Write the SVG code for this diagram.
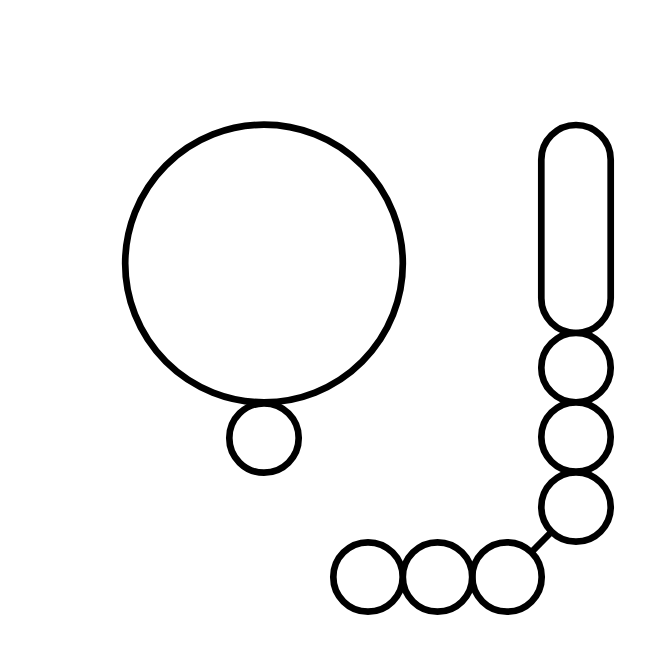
<svg xmlns="http://www.w3.org/2000/svg" width="667" height="667" viewBox="0 0 667 667">
<style>
.n{fill:#fff;stroke:#000;stroke-width:6.7}
.c{stroke:#000;stroke-width:6.5;fill:none}
</style>
<rect width="667" height="667" fill="#fff"/>
<g id="connectors">
<line class="c" x1="507" y1="577" x2="576" y2="507"/>
</g>
<g id="big"><circle class="n" cx="264" cy="263.5" r="138.8"/></g>
<g id="small"><circle class="n" cx="264" cy="438" r="34.7"/></g>
<g id="pill"><rect class="n" x="541.3" y="125" width="69.4" height="208" rx="34.7"/></g>
<g id="c1"><circle class="n" cx="576" cy="367.7" r="34.7"/></g>
<g id="c2"><circle class="n" cx="576" cy="437" r="34.7"/></g>
<g id="c3"><circle class="n" cx="576" cy="507" r="34.7"/></g>
<g id="b3"><circle class="n" cx="507" cy="577" r="34.7"/></g>
<g id="b2"><circle class="n" cx="437.5" cy="577" r="34.7"/></g>
<g id="b1"><circle class="n" cx="368" cy="577" r="34.7"/></g>
</svg>
